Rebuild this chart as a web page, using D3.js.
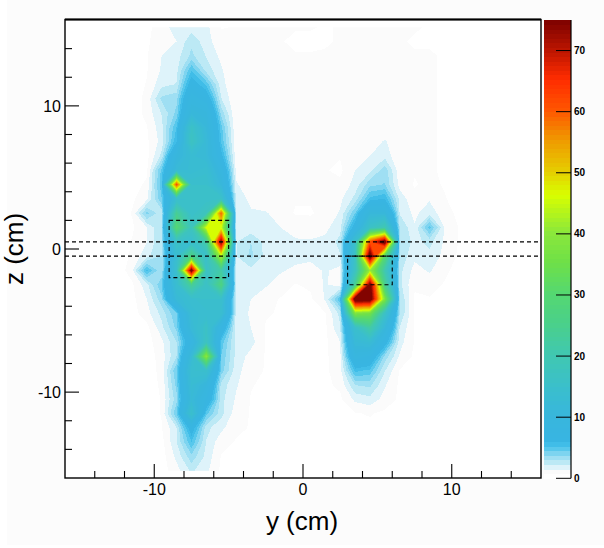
<!DOCTYPE html>
<html><head><meta charset="utf-8">
<script src="https://cdnjs.cloudflare.com/ajax/libs/d3/7.8.5/d3.min.js"></script>
<style>html,body{margin:0;padding:0;background:#fff;overflow:hidden}svg{display:block}text{font-family:"Liberation Sans",Arial,sans-serif;fill:#000}</style>
</head><body><svg id="c" width="604" height="548"></svg>
<script>
// Columns: y = -15.5 ... 15.5 cm. Each named row is one z value.
const zP155=[.2,.2,.2,.2,.3,.5,1.2,1.8,1.9,1.7,.7,.8,.9,.9,.8,.8,.8,.7,.8,.9,.9,.9,.8,.8,.7,.6,.5,.3,.3,.2,.2,.2];
const zP145=[.2,.2,.2,.2,.3,.6,1.3,1.5,2.8,1.8,1.0,.8,.9,.9,.8,.6,.6,.7,.8,.9,.9,.9,.8,.7,.7,.6,.5,.3,.3,.2,.2,.2];
const zP135=[.2,.2,.2,.2,.3,.7,1.5,1.9,3.2,2.2,1.3,.8,.9,.9,.8,.8,.8,.8,.8,.9,.9,.9,.8,.8,.8,.7,.5,.3,.3,.2,.2,.2];
const zP125=[.2,.2,.2,.2,.3,.7,1.6,2.0,5.2,2.7,1.6,.8,.9,.9,.8,.8,.8,.8,.8,.9,.9,.9,.9,.9,.8,.7,.5,.3,.3,.2,.2,.2];
const zP115=[.2,.2,.2,.2,.3,.8,2.0,2.3,7.0,5.0,1.8,.8,.9,.9,.8,.8,.8,.8,.8,.9,.9,.9,.9,.9,.8,.7,.5,.3,.3,.2,.2,.2];
const zP105=[.2,.2,.2,.2,.3,1.0,3.2,3.5,9.0,7.5,2.3,.8,.9,.9,.8,.8,.8,.8,.8,.9,.9,.9,.9,.9,.8,.7,.5,.3,.3,.2,.2,.2];
const zP95=[.2,.2,.2,.2,.3,1.0,2.3,4.0,11,10,3.5,.8,.9,.9,.8,.8,.8,.8,.8,.9,.9,.9,.9,.9,.8,.7,.5,.3,.3,.2,.2,.2];
const zP85=[.2,.2,.2,.2,.3,.7,2.0,5.3,16,11,4.8,.8,.9,.9,.8,.8,.8,.8,.8,.9,.9,1.0,.9,.9,.8,.7,.5,.3,.3,.2,.2,.2];
const zP75=[.2,.2,.2,.2,.3,.6,1.8,6.0,17,12,5.2,.9,.9,.9,.8,.8,.8,.8,.8,.9,1.0,1.6,.9,.9,.8,.7,.5,.3,.3,.2,.2,.2];
const zP65=[.2,.2,.2,.2,.3,.5,2.5,10,13,12,6.5,1.0,.9,.9,.8,.8,.8,.8,.8,.9,1.5,2.0,.8,.8,.8,.7,.5,.3,.3,.2,.2,.2];
const zP55=[.2,.2,.2,.2,.3,.6,4.8,12,13,14,9.0,1.3,.9,.8,.8,.8,.8,.8,.6,1.5,2.0,3.5,1.0,.8,.8,.7,.5,.3,.3,.2,.2,.2];
const zP45=[.2,.2,.2,.2,.4,.9,5.0,62,15,15,11,1.6,1.0,.8,.8,.8,.8,.8,.9,1.8,3.5,3.8,1.2,.7,.9,.7,.5,.3,.3,.2,.2,.2];
const zP35=[.2,.2,.2,.2,.6,1.3,4.5,14,15,15,16,2.0,1.3,.8,.8,.8,.8,.8,1.3,2.5,5.5,6.0,2.0,.9,1.4,.8,.5,.3,.3,.2,.2,.2];
const zP25=[.2,.2,.2,.2,.8,4.0,2.5,24,15,18,60,2.0,1.6,1.6,1.0,.7,.7,.9,1.6,4.5,11,11,2.2,1.3,2.0,1.0,.6,.3,.3,.2,.2,.2];
const zP15=[.2,.2,.2,.2,.6,1.5,3.0,30,18,46,46,2.0,1.7,1.6,1.5,1.2,1.0,1.3,2.0,7.0,16,20,3.0,1.6,4.8,1.5,.7,.3,.3,.2,.2,.2];
const zP05=[.2,.2,.2,.2,.8,1.5,3.0,16,14,22,76,2.2,3.0,2.0,1.8,1.6,1.6,1.7,2.5,15,62,80,3.0,2.0,2.5,1.4,.7,.3,.3,.2,.2,.2];
const zN05=[.2,.2,.2,.2,.9,2.0,3.0,14,27,15,44,2.2,3.2,2.0,1.8,1.8,1.7,1.8,2.2,16,80,30,2.8,1.7,2.0,1.3,.6,.3,.3,.2,.2,.2];
const zN15=[.2,.2,.2,.2,1.2,5.4,3.0,15,78,16,22,2.0,2.0,1.7,1.6,1.3,1.2,1.6,1.2,17,42,20,2.5,1.2,1.6,.9,.5,.3,.3,.2,.2,.2];
const zN25=[.2,.2,.2,.2,.6,2.0,4.5,14,24,16,27,2.0,1.8,1.6,1.1,.7,.9,1.6,1.0,24,78,25,2.5,.8,1.0,.7,.4,.3,.3,.2,.2,.2];
const zN35=[.2,.2,.2,.2,.5,1.5,3.5,12,14,15,15,2.0,1.5,1.0,.7,.7,.6,1.6,5.2,80,80,38,3.0,.7,.7,.6,.4,.3,.3,.2,.2,.2];
const zN45=[.2,.2,.2,.2,.4,1.2,2.5,4.5,13,14,14,1.9,1.4,.8,.7,.6,.6,.7,2.5,38,36,16,3.0,.7,.6,.6,.4,.3,.3,.2,.2,.2];
const zN55=[.2,.2,.2,.2,.3,.5,2.0,4.0,12,16,8.0,1.8,1.5,.7,.7,.6,.6,.6,2.2,15,22,11,2.2,.7,.6,.6,.4,.3,.3,.2,.2,.2];
const zN65=[.2,.2,.2,.2,.2,.4,1.3,3.0,8.0,17,5.0,2.0,1.8,.7,.6,.6,.6,.6,1.5,12,13,7.0,1.8,.7,.6,.5,.4,.3,.3,.2,.2,.2];
const zN75=[.2,.2,.2,.2,.2,.3,1.1,3.0,12,40,4.5,2.0,1.2,.7,.6,.6,.6,.6,1.3,9.0,8.0,3.5,1.4,.6,.6,.5,.4,.3,.3,.2,.2,.2];
const zN85=[.2,.2,.2,.2,.2,.3,1.0,4.5,14,15,4.2,1.8,1.0,.7,.6,.6,.6,.6,1.2,5.5,5.0,2.3,.7,.6,.6,.5,.4,.3,.3,.2,.2,.2];
const zN95=[.2,.2,.2,.2,.2,.3,.9,4.0,13,10,2.7,1.6,.8,.6,.6,.6,.6,.6,.9,3.0,3.2,1.6,.6,.6,.6,.5,.4,.3,.3,.2,.2,.2];
const zN105=[.2,.2,.2,.2,.2,.3,.8,3.5,12,8.0,2.5,1.4,.7,.6,.6,.6,.6,.6,.6,1.7,2.0,1.2,.6,.6,.5,.5,.4,.3,.3,.2,.2,.2];
const zN115=[.2,.2,.2,.2,.2,.3,.8,4.5,15,4.8,2.5,1.1,.7,.6,.5,.5,.5,.5,.5,.7,.8,.6,.5,.5,.5,.4,.3,.3,.3,.2,.2,.2];
const zN125=[.2,.2,.2,.2,.2,.3,.7,2.2,7.0,2.5,1.7,.9,.7,.6,.5,.5,.5,.5,.5,.5,.6,.5,.5,.5,.4,.4,.3,.3,.3,.2,.2,.2];
const zN135=[.2,.2,.2,.2,.2,.3,.5,2.2,5.2,2.2,1.0,.7,.6,.6,.5,.5,.5,.5,.5,.5,.5,.5,.5,.4,.4,.4,.3,.3,.3,.2,.2,.2];
const zN145=[.2,.2,.2,.2,.2,.3,.4,1.7,3.5,2.0,.7,.6,.6,.5,.5,.5,.5,.5,.5,.5,.5,.5,.4,.4,.4,.3,.3,.3,.3,.2,.2,.2];
const zN155=[.2,.2,.2,.2,.2,.3,.4,1.2,2.4,1.7,.6,.6,.5,.5,.5,.5,.5,.5,.5,.5,.5,.5,.4,.4,.3,.3,.3,.3,.3,.2,.2,.2];
const zRows=[zP155,zP145,zP135,zP125,zP115,zP105,zP95,zP85,zP75,zP65,zP55,zP45,zP35,zP25,zP15,zP05,
             zN05,zN15,zN25,zN35,zN45,zN55,zN65,zN75,zN85,zN95,zN105,zN115,zN125,zN135,zN145,zN155];

const colorValues=[0,.75,1.5,2.25,3,3.75,4.5,5.25,6,10,14,20,25,30,35,40,46,50,55,60,65,70,75];
const colorHexes=["#ffffff","#fbfbfb","#def3fa","#bce9f5","#9fdff3","#7dd4f0","#58c8ec","#40bde8","#38b5e2","#38b6dc","#3abece","#40c8b0","#4ad08a","#55d870","#6ee048","#8ce83a","#d8ff00","#e6cc00","#ef9a00","#ff5500","#ff2c00","#b81400","#780000"];
const xTicks=[-14,-12,-10,-8,-6,-4,-2,0,2,4,6,8,10,12,14];
const zTicks=[-14,-12,-10,-8,-6,-4,-2,0,2,4,6,8,10,12,14];
const majorTicks=[-10,0,10];
const barTicks=[0,10,20,30,40,50,60,70];
const zHLines=[0.5,-0.5];
const boxLeft=[-9,-5,-2,2];
const boxRight=[3,6,-2.5,-0.5];
const levelStep=0.75, zMax=75;

const svg=d3.select("#c");
const x=d3.scaleLinear().domain([-16,16]).range([65,541]);
const y=d3.scaleLinear().domain([-16,16]).range([478,20]);
const col=d3.scaleLinear().domain(colorValues).range(colorHexes).clamp(true);
const bar=d3.scaleLinear().domain([0,zMax]).range([478.3,20]);
const thresholds=d3.range(levelStep,zMax,levelStep);

svg.append("rect").attr("x",7).attr("y",0).attr("width",597).attr("height",545).attr("fill","#fcfcfc");
svg.append("rect").attr("x",65).attr("y",20).attr("width",476).attr("height",458).attr("fill","#fff");
const defs=svg.append("defs");
defs.append("clipPath").attr("id","cp").append("rect")
  .attr("x",x(-15.5)).attr("y",y(15.5)).attr("width",x(15.5)-x(-15.5)).attr("height",y(-15.5)-y(15.5));

const flat=zRows.flat();
const contours=d3.contours().size([32,32]).smooth(true).thresholds(thresholds)(flat);
const proj=d3.geoTransform({point(px,py){this.stream.point(x(-16+px),y(16-py));}});
const path=d3.geoPath(proj);
svg.append("g").attr("clip-path","url(#cp)").attr("shape-rendering","crispEdges")
  .selectAll("path").data(contours).join("path")
  .attr("d",path).attr("fill",d=>col(d.value));

// colour bar
svg.append("g").attr("shape-rendering","crispEdges").selectAll("rect").data([0].concat(thresholds)).join("rect")
  .attr("x",544).attr("width",27)
  .attr("y",d=>bar(Math.min(d+levelStep,zMax)))
  .attr("height",d=>bar(d)-bar(Math.min(d+levelStep,zMax))+.5)
  .attr("fill",d=>col(d));
const bAxis=svg.append("g").attr("transform","translate(571,0)");
bAxis.append("line").attr("y1",20).attr("y2",478.3).attr("stroke","#000").attr("stroke-width",1.2);
bAxis.selectAll("line.t").data(barTicks).join("line").attr("class","t")
  .attr("x1",-15).attr("x2",0).attr("y1",d=>bar(d)).attr("y2",d=>bar(d)).attr("stroke","#000");
bAxis.selectAll("text").data(barTicks).join("text")
  .attr("x",3).attr("y",d=>bar(d)+3.5).attr("font-size",10).attr("font-weight","bold").text(d=>d);

// dashed overlays
const dash=svg.append("g").attr("fill","none").attr("stroke","#000").attr("stroke-width",1.1).attr("stroke-dasharray","4 3");
dash.selectAll("line").data(zHLines).join("line")
  .attr("x1",x(-16)).attr("x2",x(16)).attr("y1",d=>y(d)).attr("y2",d=>y(d));
dash.selectAll("rect").data([boxLeft,boxRight]).join("rect")
  .attr("x",d=>x(d[0])).attr("width",d=>x(d[1])-x(d[0]))
  .attr("y",d=>y(d[3])).attr("height",d=>y(d[2])-y(d[3]));

// frame and axes
const ax=svg.append("g").attr("stroke","#000");
ax.append("rect").attr("x",65).attr("y",19.5).attr("width",476).attr("height",458.5).attr("fill","none").attr("stroke-width",1.4);
ax.append("line").attr("x1",65).attr("x2",541).attr("y1",19.5).attr("y2",19.5).attr("stroke-width",2);
ax.selectAll("line.xt").data(xTicks).join("line").attr("class","xt")
  .attr("x1",d=>x(d)).attr("x2",d=>x(d)).attr("y1",478).attr("y2",d=>478-(majorTicks.includes(d)?14:7)).attr("stroke-width",1.1);
ax.selectAll("line.zt").data(zTicks).join("line").attr("class","zt")
  .attr("y1",d=>y(d)).attr("y2",d=>y(d)).attr("x1",65).attr("x2",d=>65+(majorTicks.includes(d)?14:7)).attr("stroke-width",1.1);
svg.selectAll("text.xl").data(majorTicks).join("text").attr("class","xl")
  .attr("x",d=>x(d)).attr("y",495).attr("text-anchor","middle").attr("font-size",16).text(d=>d);
svg.selectAll("text.zl").data(majorTicks).join("text").attr("class","zl")
  .attr("x",61).attr("y",d=>y(d)+6).attr("text-anchor","end").attr("font-size",16).text(d=>d);
svg.append("text").attr("x",302).attr("y",530).attr("text-anchor","middle").attr("font-size",26).text("y (cm)");
svg.append("text").attr("transform","translate(23,249) rotate(-90)").attr("text-anchor","middle").attr("font-size",26).text("z (cm)");
</script></body></html>
